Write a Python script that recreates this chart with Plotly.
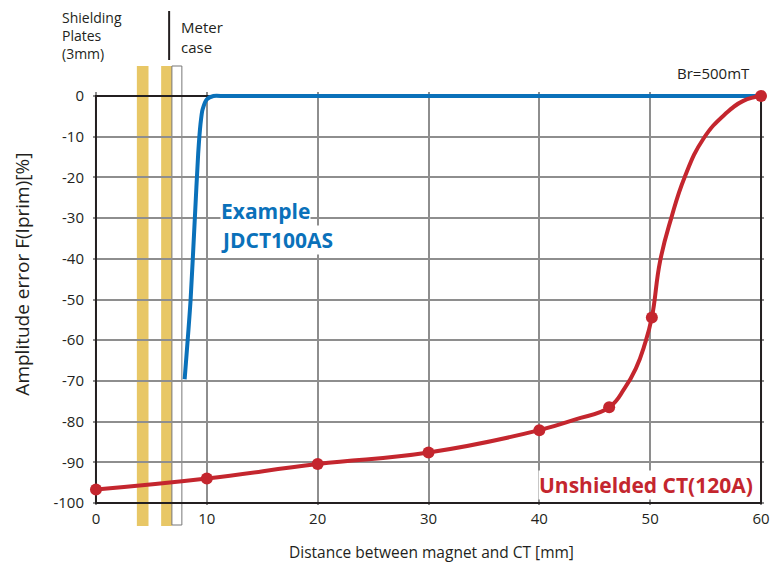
import plotly.graph_objects as go

# ---------------- data ----------------
# Unshielded CT(120A): measured points (markers)
ct_x = [0, 10, 20, 30, 40, 46.3, 50.15, 60]
ct_y = [-96.7, -94.0, -90.4, -87.6, -82.1, -76.5, -54.4, 0]

# Unshielded CT curve trace
ct_curve_x = [0, 10, 20, 30, 40, 43.2, 46.3, 47.7, 48.7, 49.5, 50.15, 50.9, 51.9, 53.1, 54.8, 56.7, 58.4, 60]
ct_curve_y = [-96.7, -94.0, -90.4, -87.6, -82.1, -79.5, -76.5, -71.8, -67.0, -61.1, -54.4, -40.5, -30.0, -20.0, -10.5, -4.6, -1.2, 0]

# Example JDCT100AS curve
jd_x = [8.0, 8.53, 8.92, 9.22, 9.43, 9.61, 10.0, 10.6, 11.5, 13, 20, 40, 60]
jd_y = [-69.6, -50.4, -30.0, -14.2, -6.9, -3.4, -0.8, 0, 0, 0, 0, 0, 0]

# shielding plates and meter case (mm)
plates = [(3.69, 4.74), (5.88, 6.85)]
meter_case = (6.85, 7.75)
divider_x = 6.6

x_ticks = [0, 10, 20, 30, 40, 50, 60]
y_ticks = [0, -10, -20, -30, -40, -50, -60, -70, -80, -90, -100]

# ---------------- styling ----------------
BLUE = "#0A71BA"
RED = "#C4262E"
YELLOW = "#E8C766"
GRID = "#8E8E8E"
DARK = "#231F20"
FONT = "Open Sans"

W, H = 778, 564
L, R, T, B = 93, 8, 92, 59
PW, PH = W - L - R, H - T - B


def px(xp):
    return (xp - L) / PW


def py(yp):
    return (H - B - yp) / PH


fig = go.Figure()

fig.add_trace(go.Scatter(
    x=jd_x, y=jd_y, mode="lines",
    line=dict(color=BLUE, width=4, shape="spline", smoothing=0.6),
    hoverinfo="skip", showlegend=False))

fig.add_trace(go.Scatter(
    x=ct_curve_x, y=ct_curve_y, mode="lines",
    line=dict(color=RED, width=4, shape="spline", smoothing=1.3),
    hoverinfo="skip", showlegend=False))

fig.add_trace(go.Scatter(
    x=ct_x, y=ct_y, mode="markers",
    marker=dict(color=RED, size=12),
    cliponaxis=False, showlegend=False))

shapes = []
for x0, x1 in plates:
    shapes.append(dict(type="rect", xref="x", yref="paper", x0=x0, x1=x1,
                       y0=py(526), y1=py(66), fillcolor=YELLOW,
                       line=dict(width=0), layer="below"))
shapes.append(dict(type="rect", xref="x", yref="paper", x0=meter_case[0], x1=meter_case[1],
                   y0=py(525), y1=py(66), fillcolor="rgba(0,0,0,0)",
                   line=dict(width=1, color="#777777"), layer="below"))
shapes.append(dict(type="line", xref="x", yref="paper", x0=divider_x, x1=divider_x,
                   y0=py(60), y1=py(11), line=dict(width=2, color=DARK)))
# plot frame
shapes.append(dict(type="rect", xref="x", yref="y", x0=0, x1=60, y0=-100, y1=0,
                   line=dict(width=2, color=DARK), fillcolor="rgba(0,0,0,0)",
                   layer="between"))

annotations = []


def txt(s, x, y, size, color="#231F20", bold=False, xanchor="left", yanchor="middle", bg=None):
    a = dict(text=f"<b>{s}</b>" if bold else s, x=x, y=y, xref="paper", yref="paper",
             xanchor=xanchor, yanchor=yanchor, showarrow=False, align="left",
             font=dict(family=FONT, size=size, color=color), borderpad=0)
    if bg:
        a["bgcolor"] = bg
    annotations.append(a)


txt("Shielding<br>Plates<br>(3mm)", px(61), py(7), 14, yanchor="top")
txt("Meter<br>case", px(181), py(16), 15, yanchor="top")
txt("Br=500mT", px(757), py(72.5), 15, xanchor="right")
txt("Example", px(221), py(211), 21, color=BLUE, bold=True, bg="white")
txt("JDCT100AS", px(221), py(240), 21, color=BLUE, bold=True, bg="white")
txt("Unshielded CT(120A)", px(542), py(484.5), 21, color=RED, bold=True, bg="white")
# axis titles
annotations.append(dict(text="Amplitude error F(Iprim)[%]", textangle=-90,
                        x=px(21), y=py(274), xref="paper", yref="paper",
                        xanchor="center", yanchor="middle", showarrow=False,
                        font=dict(family=FONT, size=19, color=DARK)))
annotations.append(dict(text="Distance between magnet and CT [mm]",
                        x=px(435), y=py(552), xref="paper", yref="paper",
                        xanchor="center", yanchor="middle", showarrow=False,
                        font=dict(family=FONT, size=15.5, color=DARK)))

k_x = PW / 60.5
k_y = PH / 101.5
fig.update_layout(
    width=W, height=H,
    margin=dict(l=L, r=R, t=T, b=B, pad=0),
    paper_bgcolor="white", plot_bgcolor="white",
    showlegend=False,
    font=dict(family=FONT, color=DARK),
    shapes=shapes, annotations=annotations,
    xaxis=dict(range=[-3 / k_x, 60 + 3 / k_x], tickvals=x_ticks,
               ticktext=[str(v) for v in x_ticks],
               showgrid=True, gridcolor=GRID, gridwidth=1.5,
               zeroline=False, showline=False, ticks="",
               tickfont=dict(family=FONT, size=15, color=DARK),
               ticklabelstandoff=3, fixedrange=True),
    yaxis=dict(range=[-100 - 2 / k_y, 4 / k_y], tickvals=y_ticks,
               ticktext=[str(v) for v in y_ticks],
               showgrid=True, gridcolor=GRID, gridwidth=1.5,
               zeroline=False, showline=False, ticks="",
               tickfont=dict(family=FONT, size=15, color=DARK),
               ticklabelstandoff=8, fixedrange=True),
)

fig.write_html("out.html")
